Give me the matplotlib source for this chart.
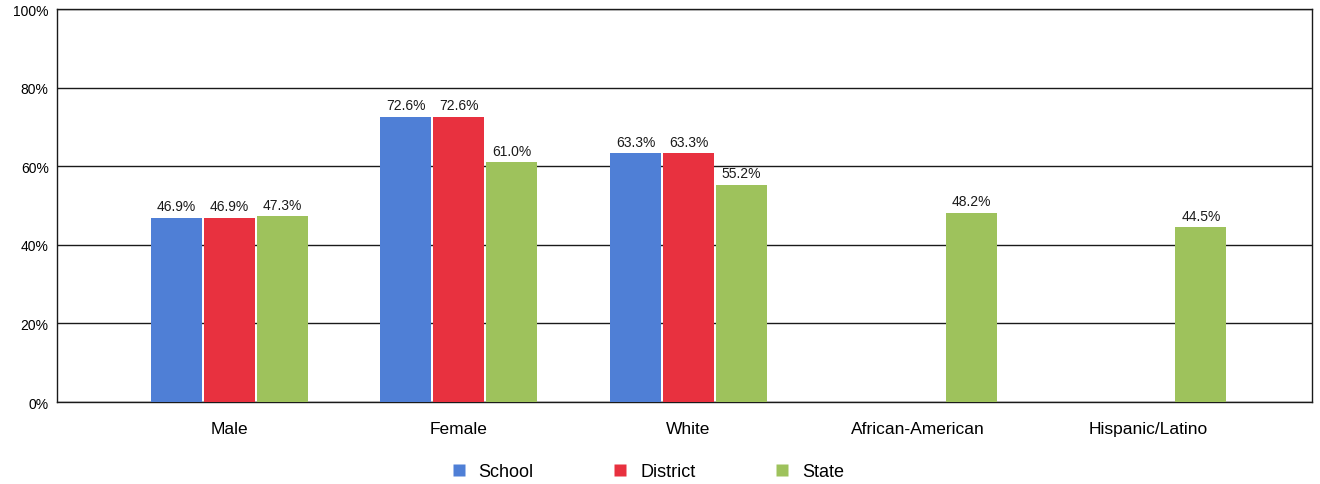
import numpy as np
import matplotlib
matplotlib.use('Agg')
import matplotlib.pyplot as plt

plt.rcParams['font.family'] = ['Liberation Sans', 'DejaVu Sans']

categories = ['Male', 'Female', 'White', 'African-American', 'Hispanic/Latino']
school = [46.9, 72.6, 63.3, None, None]
district = [46.9, 72.6, 63.3, None, None]
state = [47.3, 61.0, 55.2, 48.2, 44.5]
series_names = ['School', 'District', 'State']
colors = ['#4f7fd6', '#e8313f', '#9ec25c']

fig = plt.figure(figsize=(13.2, 4.85), dpi=100)
ax = fig.add_axes([0.0432, 0.169, 0.9507, 0.81])

x = np.arange(len(categories))
width = 0.222
step = 0.231

for k, (vals, name, col) in enumerate(zip([school, district, state], series_names, colors)):
    offs = (k - 1) * step
    for i, v in enumerate(vals):
        if v is None:
            continue
        ax.bar(x[i] + offs, v, width=width, color=col, edgecolor='none', zorder=3)
        ax.text(x[i] + offs, v + 1.2, f'{v:.1f}%', ha='center', va='bottom',
                fontsize=10, color='#1a1a1a', zorder=4)

ax.set_ylim(0, 100)
ax.set_xlim(-0.749, 4.714)
ax.set_yticks([0, 20, 40, 60, 80, 100])
ax.set_yticklabels([f'{t}%' for t in range(0, 101, 20)], fontsize=10)
ax.set_xticks(x)
ax.set_xticklabels(categories, fontsize=12.5)
ax.tick_params(axis='x', length=0, pad=14)
ax.tick_params(axis='y', length=0, pad=6)
ax.yaxis.grid(True, color='#1a1a1a', linewidth=1.0, zorder=0)
for s in ax.spines.values():
    s.set_color('#1a1a1a')
    s.set_linewidth(1.0)

handles = [plt.Line2D([], [], marker='s', linestyle='none', markersize=9,
                      markerfacecolor=c, markeredgecolor='none') for c in colors]
fig.legend(handles, series_names, loc='center', bbox_to_anchor=(0.49, 0.025),
           ncol=3, frameon=False, fontsize=13, columnspacing=4.3,
           handletextpad=0.6, handlelength=1.0)

fig.savefig('out.png', dpi=100)
